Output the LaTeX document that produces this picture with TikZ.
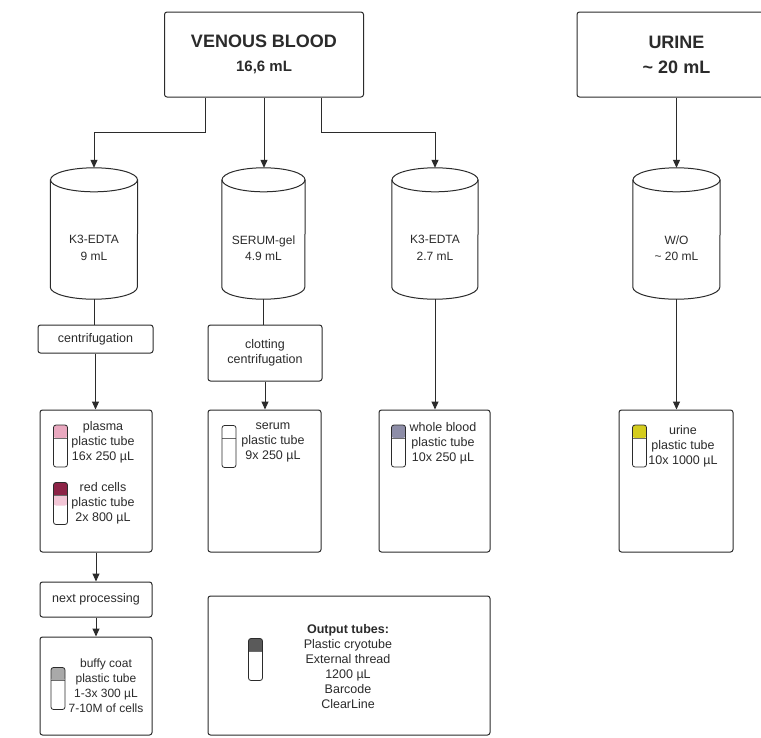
\documentclass[tikz,border=0pt]{standalone}
\usepackage{fontspec}
\setmainfont{Liberation Sans}
\usetikzlibrary{arrows.meta}
\definecolor{ln}{HTML}{2B2B2B}
\definecolor{capplasma}{HTML}{E9A8BF}
\definecolor{capred}{HTML}{8C2346}
\definecolor{bandred}{HTML}{F3C6D6}
\definecolor{capwb}{HTML}{8E8EA8}
\definecolor{capur}{HTML}{D4CC1E}
\definecolor{capbc}{HTML}{A9A9A9}
\definecolor{capout}{HTML}{5A5A5A}
\newcommand\cylshape[2]{%
  \draw[draw=ln, line width=1pt, fill=white] ([yshift=-12pt]#1.north west) -- ([yshift=12pt]#1.south west)
    arc[start angle=180,end angle=360,x radius=#2,y radius=12pt] -- ([yshift=-12pt]#1.north east);
  \draw[draw=ln, line width=1pt] ([yshift=-12pt]#1.north) ellipse[x radius=#2, y radius=12pt];
}
\begin{document}
\begin{tikzpicture}[x=1pt,y=-1pt,
  box/.style={draw=ln, line width=1pt, rounded corners=2.5pt, inner sep=0pt, fill=white},
  txt/.style={font=\fontsize{12}{15}\selectfont, align=center, text=ln, inner sep=0pt},
  ttxt/.style={font=\fontsize{12.5}{15}\selectfont, align=center, text=ln, inner sep=0pt},
  ctxt/.style={font=\fontsize{12}{16.5}\selectfont, align=center, text=ln, inner sep=0pt},
  arr/.style={draw=ln, line width=1pt, -{Triangle[length=8pt,width=7pt]}},
  conn/.style={draw=ln, line width=1pt},
  shp/.style={minimum width=#1, minimum height=131pt, inner sep=0pt},
  tube/.style n args={2}{draw=ln, line width=0.8pt, minimum width=14pt, minimum height=42pt, inner sep=0pt, rounded corners=2.5pt,
    path picture={
      \fill[#1] (path picture bounding box.north west) rectangle ([yshift=-13pt]path picture bounding box.north east);
      \fill[#2] ([yshift=-13pt]path picture bounding box.north west) rectangle ([yshift=-23pt]path picture bounding box.north east);
      \draw[ln!70, line width=0.6pt] ([yshift=-13pt]path picture bounding box.north west) -- ([yshift=-13pt]path picture bounding box.north east);
    }},
]
\useasboundingbox (0,0) rectangle (761,737);
\fill[white] (0,0) rectangle (761,737);
\clip (0,0) rectangle (761,737);

% top boxes
\node[box, minimum width=199pt, minimum height=85pt, align=center, text=ln, font=\bfseries\fontsize{18}{22}\selectfont] (vb) at (264,54.5)
  {VENOUS BLOOD\\[2pt]{\fontsize{15}{18}\selectfont 16,6 mL}};
\node[box, minimum width=199pt, minimum height=85pt, align=center, text=ln, font=\bfseries\fontsize{18}{25}\selectfont] (ur) at (676.5,54.5)
  {URINE\\\textasciitilde\ 20 mL};

% cylinders
\node[shp=87pt] (c1) at (94,233.5) {};
\node[shp=83pt] (c2) at (263.5,233.5) {};
\node[shp=86pt] (c3) at (435,233.5) {};
\node[shp=87pt] (c4) at (676.5,233.5) {};
\cylshape{c1}{43.5pt}
\cylshape{c2}{41.5pt}
\cylshape{c3}{43pt}
\cylshape{c4}{43.5pt}
\node[ctxt] (c1t) at (94,248) {K3-EDTA\\9 mL};
\node[ctxt] (c2t) at (263.5,248) {SERUM-gel\\4.9 mL};
\node[ctxt] (c3t) at (435,248) {K3-EDTA\\2.7 mL};
\node[ctxt] (c4t) at (676.5,248) {W/O\\\textasciitilde\ 20 mL};

% process boxes
\node[box, minimum width=115pt, minimum height=28pt, ttxt] (cf) at (95.5,339) {centrifugation};
\node[box, minimum width=114pt, minimum height=56pt, ttxt] (cl) at (265,353) {clotting\\centrifugation};

% aliquot boxes
\node[box, minimum width=112pt, minimum height=142pt] (p1) at (96,481) {};
\node[box, minimum width=113pt, minimum height=142pt] (p2) at (264.5,481) {};
\node[box, minimum width=111pt, minimum height=142pt] (p3) at (434.5,481) {};
\node[box, minimum width=114pt, minimum height=142pt] (p4) at (676,481) {};
\node[box, minimum width=112pt, minimum height=35pt, ttxt] (np) at (96,599.5) {next processing};
\node[box, minimum width=112pt, minimum height=98pt] (bc) at (96,686) {};
\node[box, minimum width=282pt, minimum height=139pt] (ot) at (349,665.5) {};

% tubes
\node[tube={capplasma}{white}] (tb1) at (60.5,446) {};
\node[tube={capred}{bandred}] (tb2) at (60.5,503.5) {};
\node[tube={white}{white}] (tb3) at (229,446.5) {};
\node[tube={capwb}{white}] (tb4) at (398.5,446) {};
\node[tube={capur}{white}] (tb5) at (639.5,446) {};
\node[tube={capbc}{white}] (tb6) at (58,688.5) {};
\node[tube={capout}{white}] (tb7) at (255.5,659.5) {};

% tube texts
\node[ttxt] (tx1) at (103,442) {plasma\\plastic tube\\16x 250 µL};
\node[ttxt] (tx2) at (103,503) {red cells\\plastic tube\\2x 800 µL};
\node[ttxt] (tx3) at (273,442) {serum\\plastic tube\\9x 250 µL};
\node[ttxt] (tx4) at (443,443) {whole blood\\plastic tube\\10x 250 µL};
\node[ttxt] (tx5) at (683,446) {urine\\plastic tube\\10x 1000 µL};
\node[txt] (tx6) at (106,685.5) {buffy coat\\plastic tube\\1-3x 300 µL\\7-10M of cells};
\node[ttxt] (tx7) at (348,666.5) {\textbf{Output tubes:}\\Plastic cryotube\\External thread\\1200 µL\\Barcode\\ClearLine};

% connectors
\draw[arr] ([xshift=-59pt]vb.south) -- ++(0,35) -| (c1.north);
\draw[arr] (vb.south) -- (vb.south |- c2.north);
\draw[arr] ([xshift=57pt]vb.south) -- ++(0,35) -| (c3.north);
\draw[arr] (ur.south) -- (c4.north);
\draw[conn] (c1.south) -- (c1.south |- cf.north);
\draw[conn] (c2.south) -- (c2.south |- cl.north);
\draw[arr] (c3.south) -- (c3.south |- p3.north);
\draw[arr] (c4.south) -- (c4.south |- p4.north);
\draw[arr] (cf.south) -- (cf.south |- p1.north);
\draw[arr] (cl.south) -- (cl.south |- p2.north);
\draw[arr] (p1.south) -- (np.north);
\draw[arr] (np.south) -- (bc.north);
\end{tikzpicture}
\end{document}
